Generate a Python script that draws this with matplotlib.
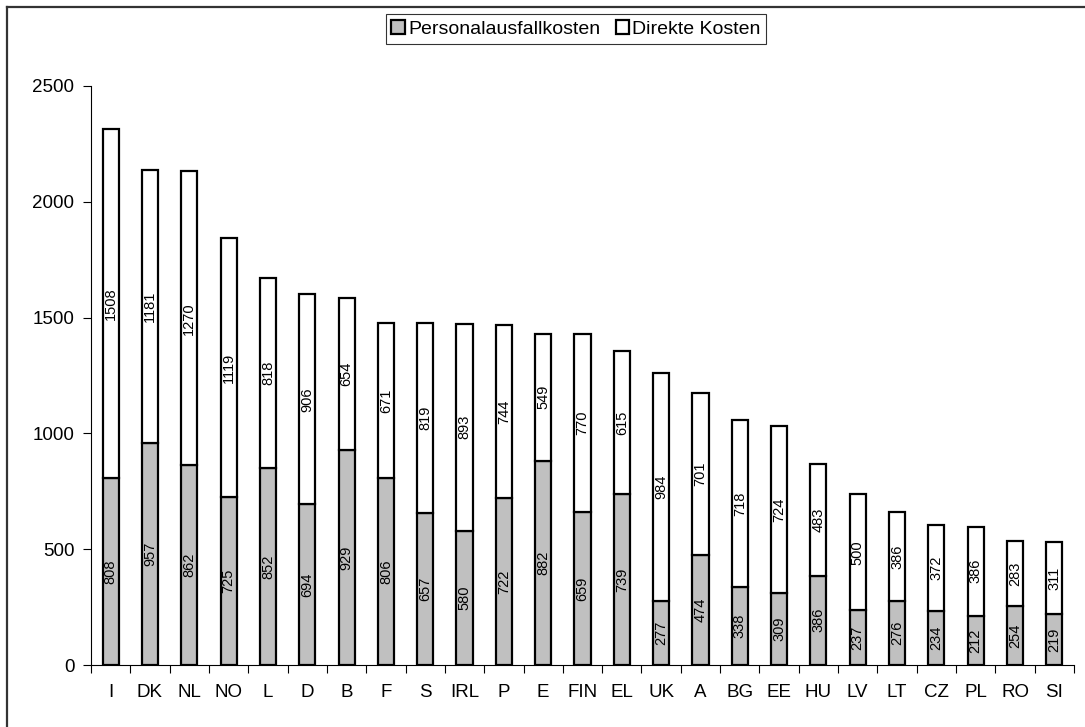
import matplotlib

matplotlib.use("Agg")
import matplotlib.pyplot as plt
import numpy as np
from matplotlib.lines import Line2D
from matplotlib.patches import Patch

plt.rcParams["font.family"] = ["Liberation Sans", "DejaVu Sans"]

countries = ["I", "DK", "NL", "NO", "L", "D", "B", "F", "S", "IRL", "P", "E",
             "FIN", "EL", "UK", "A", "BG", "EE", "HU", "LV", "LT", "CZ", "PL",
             "RO", "SI"]
personal = [808, 957, 862, 725, 852, 694, 929, 806, 657, 580, 722, 882,
            659, 739, 277, 474, 338, 309, 386, 237, 276, 234, 212, 254, 219]
direkt = [1508, 1181, 1270, 1119, 818, 906, 654, 671, 819, 893, 744, 549,
          770, 615, 984, 701, 718, 724, 483, 500, 386, 372, 386, 283, 311]
yticks = [0, 500, 1000, 1500, 2000, 2500]

GRAY = "#c0c0c0"

fig = plt.figure(figsize=(10.85, 7.27), dpi=100)
ax = fig.add_axes([91 / 1085, 1 - 665 / 727, (1074 - 91) / 1085, (665 - 86) / 727])

x = np.arange(len(countries))
width = 0.41
b1 = ax.bar(x, personal, width, color=GRAY, edgecolor="black", linewidth=1.6)
b2 = ax.bar(x, direkt, width, bottom=personal, color="white",
            edgecolor="black", linewidth=1.6)

for rect, v in zip(b1, personal):
    ax.text(rect.get_x() + rect.get_width() / 2, rect.get_y() + rect.get_height() / 2,
            str(v), rotation=90, ha="center", va="center", fontsize=10.5)
for rect, v in zip(b2, direkt):
    ax.text(rect.get_x() + rect.get_width() / 2, rect.get_y() + rect.get_height() / 2,
            str(v), rotation=90, ha="center", va="center", fontsize=10.5)

ax.set_xlim(-0.5, len(countries) - 0.5)
ax.set_ylim(0, 2500)
ax.set_yticks(yticks)
ax.set_xticks(x)
ax.set_xticklabels(countries)
ax.set_xticks(np.arange(len(countries) + 1) - 0.5, minor=True)
ax.tick_params(axis="x", which="major", length=0, pad=14, labelsize=13.5)
ax.tick_params(axis="x", which="minor", length=6, width=0.8, direction="out")
ax.tick_params(axis="y", length=6, width=0.8, labelsize=13.5, pad=6)
for side in ["top", "right"]:
    ax.spines[side].set_visible(False)
ax.spines["left"].set_linewidth(0.8)
ax.spines["bottom"].set_linewidth(0.8)

handles = [Patch(facecolor=GRAY, edgecolor="black", linewidth=1.6),
           Patch(facecolor="white", edgecolor="black", linewidth=1.6)]
leg = fig.legend(handles, ["Personalausfallkosten", "Direkte Kosten"],
                 loc="center", bbox_to_anchor=(576 / 1085, 1 - 29 / 727), ncol=2,
                 fontsize=14, frameon=True, fancybox=False, handlelength=0.7,
                 handleheight=0.7, handletextpad=0.15, columnspacing=0.8,
                 borderpad=0.3, borderaxespad=0)
leg.get_frame().set_edgecolor("black")
leg.get_frame().set_linewidth(0.8)

# outer chart-area border (only top and left visible in the crop)
fig.add_artist(Line2D([7 / 1085, 7 / 1085], [0, 1 - 7 / 727], color="#333333",
                      linewidth=1.6, transform=fig.transFigure))
fig.add_artist(Line2D([7 / 1085, 1], [1 - 7 / 727, 1 - 7 / 727], color="#333333",
                      linewidth=1.6, transform=fig.transFigure))

fig.savefig("out.png", dpi=100)
